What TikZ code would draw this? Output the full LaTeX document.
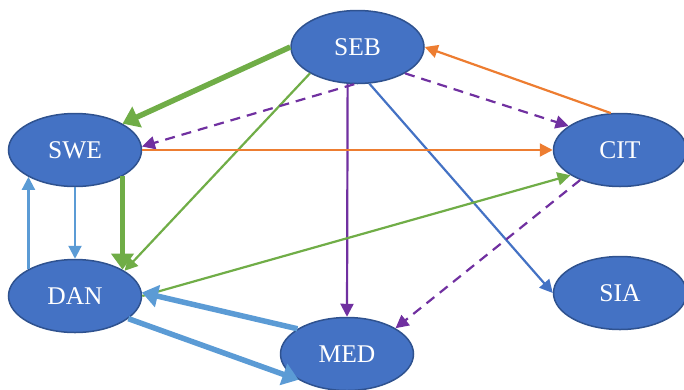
\documentclass[tikz,border=0pt]{standalone}
\usepackage{fontspec}
\setmainfont{Liberation Serif}
\usetikzlibrary{shapes.geometric,arrows.meta}
\definecolor{nodefill}{HTML}{4472C4}
\definecolor{nodeline}{HTML}{2F528F}
\definecolor{cgreen}{HTML}{70AD47}
\definecolor{corange}{HTML}{ED7D31}
\definecolor{cpurple}{HTML}{7030A0}
\definecolor{clblue}{HTML}{5B9BD5}
\definecolor{cblue}{HTML}{4472C4}
\begin{document}
\begin{tikzpicture}[x=1pt,y=-1pt,
 ent/.style={ellipse,draw=nodeline,fill=nodefill,line width=1.5pt,minimum width=133pt,minimum height=73pt,inner sep=0pt,text=white,font=\fontsize{25.5}{28}\selectfont},
 lnthin/.style={line width=2.2pt,-{Triangle[length=13pt,width=13pt]}},
 lnthick/.style={line width=5.5pt,-{Triangle[length=16pt,width=22pt]}},
 dsh/.style={lnthin,dash pattern=on 10pt off 7pt}]
\useasboundingbox (0,0) rectangle (684,389);
\node[ent] (SEB) at (357.5,47) {SEB};
\node[ent] (SWE) at (75,150) {SWE};
\node[ent] (CIT) at (620,150) {CIT};
\node[ent] (DAN) at (75,296) {DAN};
\node[ent] (SIA) at (620,293) {SIA};
\node[ent] (MED) at (347,354) {MED};
\draw[lnthick,cgreen] (SEB.west) -- (SWE.29);
\draw[lnthin,cgreen] (SEB.209) -- (DAN.27);
\draw[dsh,cpurple] (SEB.265) -- (SWE.3);
\draw[lnthin,cpurple] (SEB.255) -- (MED.north);
\draw[dsh,cpurple] (SEB.331) -- (CIT.155);
\draw[lnthin,cblue] (SEB.288) -- (SIA.west);
\draw[lnthin,corange] (CIT.104) -- (SEB.east);
\draw[lnthin,corange] (SWE.east) -- (CIT.west);
\draw[dsh,cpurple] (CIT.217) -- (MED.28);
\draw[lnthin,cgreen] (DAN.east) -- (CIT.207);
\draw[lnthin,clblue] (SWE.south) -- (DAN.north);
\draw[lnthin,clblue] (DAN.150) -- (SWE.210);
\draw[lnthick,cgreen] (SWE.331) -- (DAN.29);
\draw[lnthick,clblue] (MED.153) -- (DAN.3);
\draw[lnthick,clblue] (DAN.337) -- (MED.208);
\end{tikzpicture}
\end{document}
